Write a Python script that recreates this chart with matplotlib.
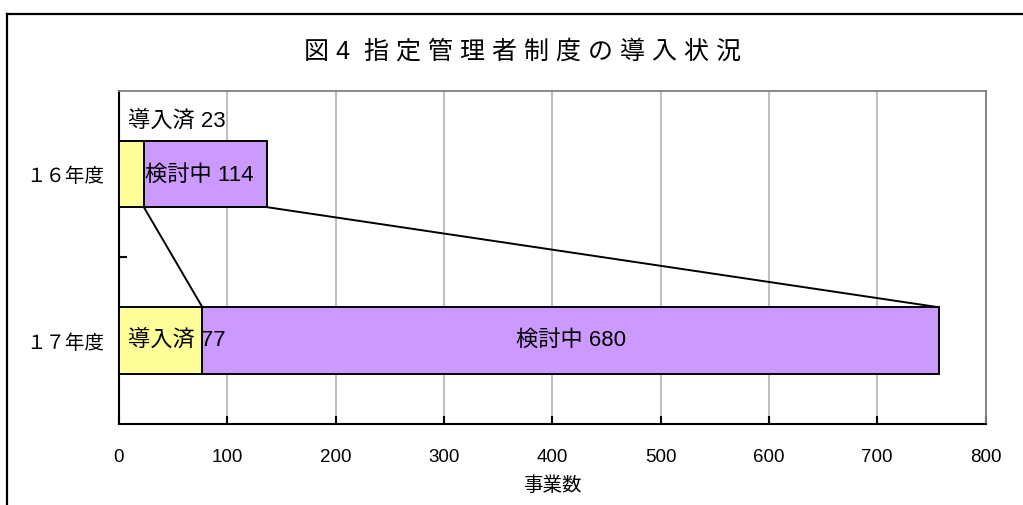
import matplotlib.pyplot as plt
from matplotlib.lines import Line2D

plt.rcParams['font.family'] = ['Liberation Sans', 'Noto Sans CJK JP']

years = ['１６年度', '１７年度']
introduced = [23, 77]      # 導入済
considering = [114, 680]   # 検討中
names = ['導入済', '検討中']
x_ticks = [0, 100, 200, 300, 400, 500, 600, 700, 800]

YELLOW = '#FFFF99'
PURPLE = '#CC99FF'
GRID = '#C0C0C0'

fig = plt.figure(figsize=(10.23, 5.06), dpi=100)
ax = fig.add_axes([119 / 1023, 1 - 425 / 506, (985.5 - 119) / 1023, (425 - 91.5) / 506])

ypos = list(range(len(years)))
h = 0.4
ax.barh(ypos, introduced, height=h, color=YELLOW, edgecolor='black', linewidth=1.4, zorder=3)
ax.barh(ypos, considering, left=introduced, height=h, color=PURPLE, edgecolor='black',
        linewidth=1.4, zorder=3)

# series lines between the two bars (Excel style)
totals = [a + b for a, b in zip(introduced, considering)]
for s in (introduced, totals):
    ax.plot([s[0], s[1]], [ypos[0] + h / 2, ypos[1] - h / 2], color='black', lw=1.4, zorder=2)

# data labels
lab_fs = 16
ax.text(8, -0.32, f'{names[0]} {introduced[0]}', ha='left', va='center', fontsize=lab_fs, zorder=4)
ax.text(74, ypos[0], f'{names[1]} {considering[0]}', ha='center', va='center', fontsize=lab_fs, zorder=4)
ax.text(8, ypos[1] - 0.01, f'{names[0]} {introduced[1]}', ha='left', va='center', fontsize=lab_fs, zorder=4)
ax.text(introduced[1] + considering[1] / 2, ypos[1] - 0.01, f'{names[1]} {considering[1]}',
        ha='center', va='center', fontsize=lab_fs, zorder=4)

ax.set_xlim(0, 800)
ax.set_ylim(1.5, -0.5)
ax.set_xticks(x_ticks)
ax.set_xticklabels([str(t) for t in x_ticks], fontsize=13.5)
ax.set_yticks(ypos)
ax.set_yticklabels(years, fontsize=14)
ax.tick_params(axis='y', length=0, pad=11)
ax.tick_params(axis='x', direction='in', length=6, width=1.5, pad=17)
# minor y tick between categories
ax.set_yticks([0.5], minor=True)
ax.tick_params(axis='y', which='minor', direction='in', length=6, width=1.5)

ax.grid(axis='x', color=GRID, lw=1.5, zorder=0)
ax.set_axisbelow(True)
for side in ('left', 'bottom'):
    ax.spines[side].set_color('black')
    ax.spines[side].set_linewidth(1.5)
for side in ('top', 'right'):
    ax.spines[side].set_color('#808080')
    ax.spines[side].set_linewidth(1.3)

ax.set_xlabel('事業数', fontsize=14, labelpad=8)

title = '図 4  ' + ' '.join('指定管理者制度の導入状況')
fig.text(522 / 1023, 1 - 52 / 506, title, ha='center', va='center', fontsize=18)

# outer chart border
bx, by = 7 / 1023, 1 - 15 / 506
fig.add_artist(Line2D([bx, bx], [0, by], color='black', lw=1.6))
fig.add_artist(Line2D([bx, 1], [by, by], color='black', lw=1.6))

fig.savefig('out.png', dpi=100)
